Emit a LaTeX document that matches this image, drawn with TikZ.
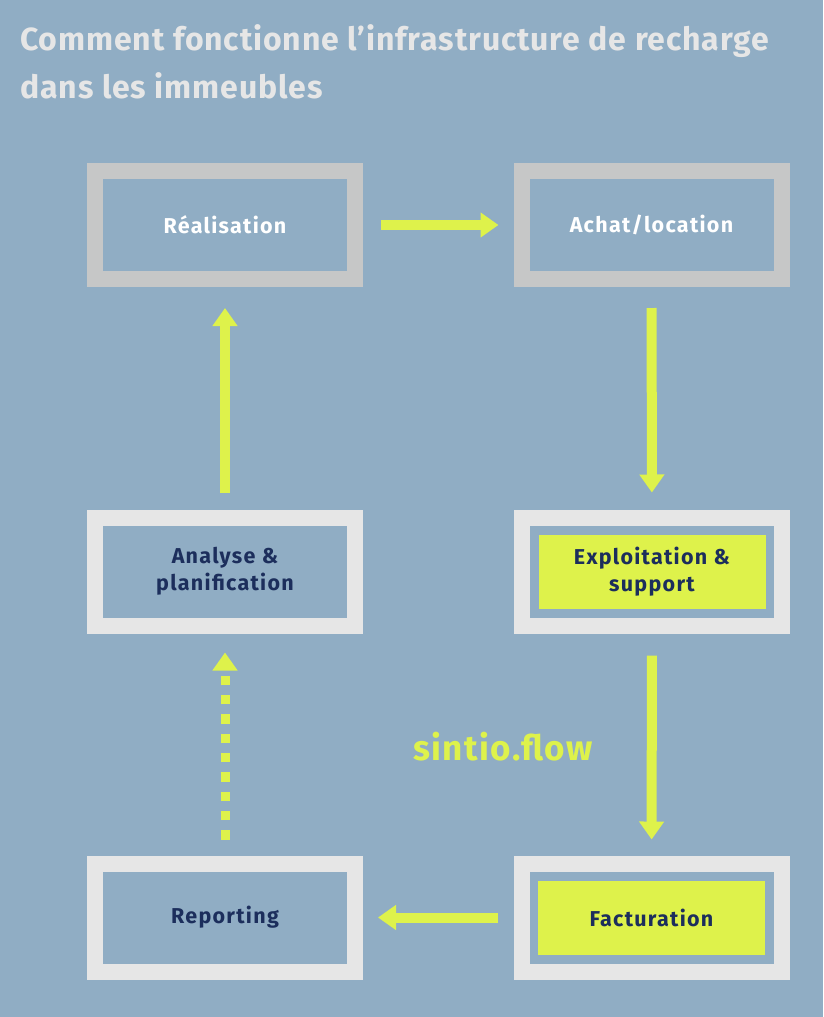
\documentclass[tikz,border=0pt]{standalone}
\usepackage{fontspec}
\setmainfont{Fira Sans}
\newfontfamily\titrefont[LetterSpace=2.8]{Fira Sans}
\newfontfamily\etapefont[LetterSpace=6]{Fira Sans}
\newfontfamily\marquefont[LetterSpace=4]{Fira Sans}
\usetikzlibrary{arrows.meta}

\definecolor{fond}{HTML}{90ADC4}
\definecolor{citron}{HTML}{DEF24B}
\definecolor{marine}{HTML}{1C2E5C}
\definecolor{grisclair}{HTML}{E6E6E6}
\definecolor{grisfonce}{HTML}{C6C7C7}

\tikzset{
  etape/.style={draw=grisclair, line width=16pt, minimum width=260pt,
    minimum height=108pt, inner sep=0pt, align=center, text=marine,
    font=\etapefont\fontsize{21.5}{27}\selectfont\bfseries},
  etapehaut/.style={etape, draw=grisfonce, text=white},
  actif/.style={fill=citron, minimum width=227pt, minimum height=74pt,
    inner sep=0pt, align=center, text=marine,
    font=\etapefont\fontsize{21.5}{27}\selectfont\bfseries},
  fleche/.style={citron, line width=10pt, -{Triangle[length=18pt,width=24pt]}},
}

\begin{document}
\begin{tikzpicture}[x=1pt, y=-1pt]
  % Fond
  \fill[fond] (0,0) rectangle (823,1017);
  \useasboundingbox (0,0) rectangle (823,1017);

  % Titre
  \node[anchor=north west, inner sep=0pt, align=left, text=grisclair,
    font=\titrefont\fontsize{32}{48}\selectfont\bfseries] (titre) at (20,24)
    {Comment fonctionne l’infrastructure de recharge\\dans les immeubles};

  % Etapes du haut
  \node[etapehaut] (real) at (225,225) {R\'ealisation};
  \node[etapehaut] (achat) at (651.5,225) {Achat/location};

  % Etapes du milieu
  \node[etape] (analyse) at (225,571.5) {Analyse \&\\planification};
  \node[etape] (exploit) at (652,571.5) {};
  \node[actif] (exploitin) at (exploit) {Exploitation \&\\support};

  % Etapes du bas
  \node[etape] (report) at (225,917.5) {Reporting};
  \node[etape] (factu) at (651.5,917.5) {};
  \node[actif] (factuin) at (factu) {Facturation};

  % Nom du service
  \node[text=citron, font=\marquefont\fontsize{35}{40}\selectfont\bfseries] (sintio)
    at (503,747) {sintio.flow};

  % Fl`eches
  \draw[fleche, shorten <=18pt, shorten >=15pt] (real) -- (achat);
  \draw[fleche, shorten <=21pt, shorten >=17pt] (achat) -- (exploit);
  \draw[fleche, shorten <=22pt, shorten >=16pt] (exploit) -- (factu);
  \draw[fleche, shorten <=16pt, shorten >=15pt] (factu) -- (report);
  \draw[fleche, line width=9pt, dash pattern=on 9.3pt off 10pt,
    shorten <=16pt, shorten >=19pt] (report) -- (analyse);
  \draw[fleche, shorten <=17pt, shorten >=21pt] (analyse) -- (real);
\end{tikzpicture}
\end{document}
